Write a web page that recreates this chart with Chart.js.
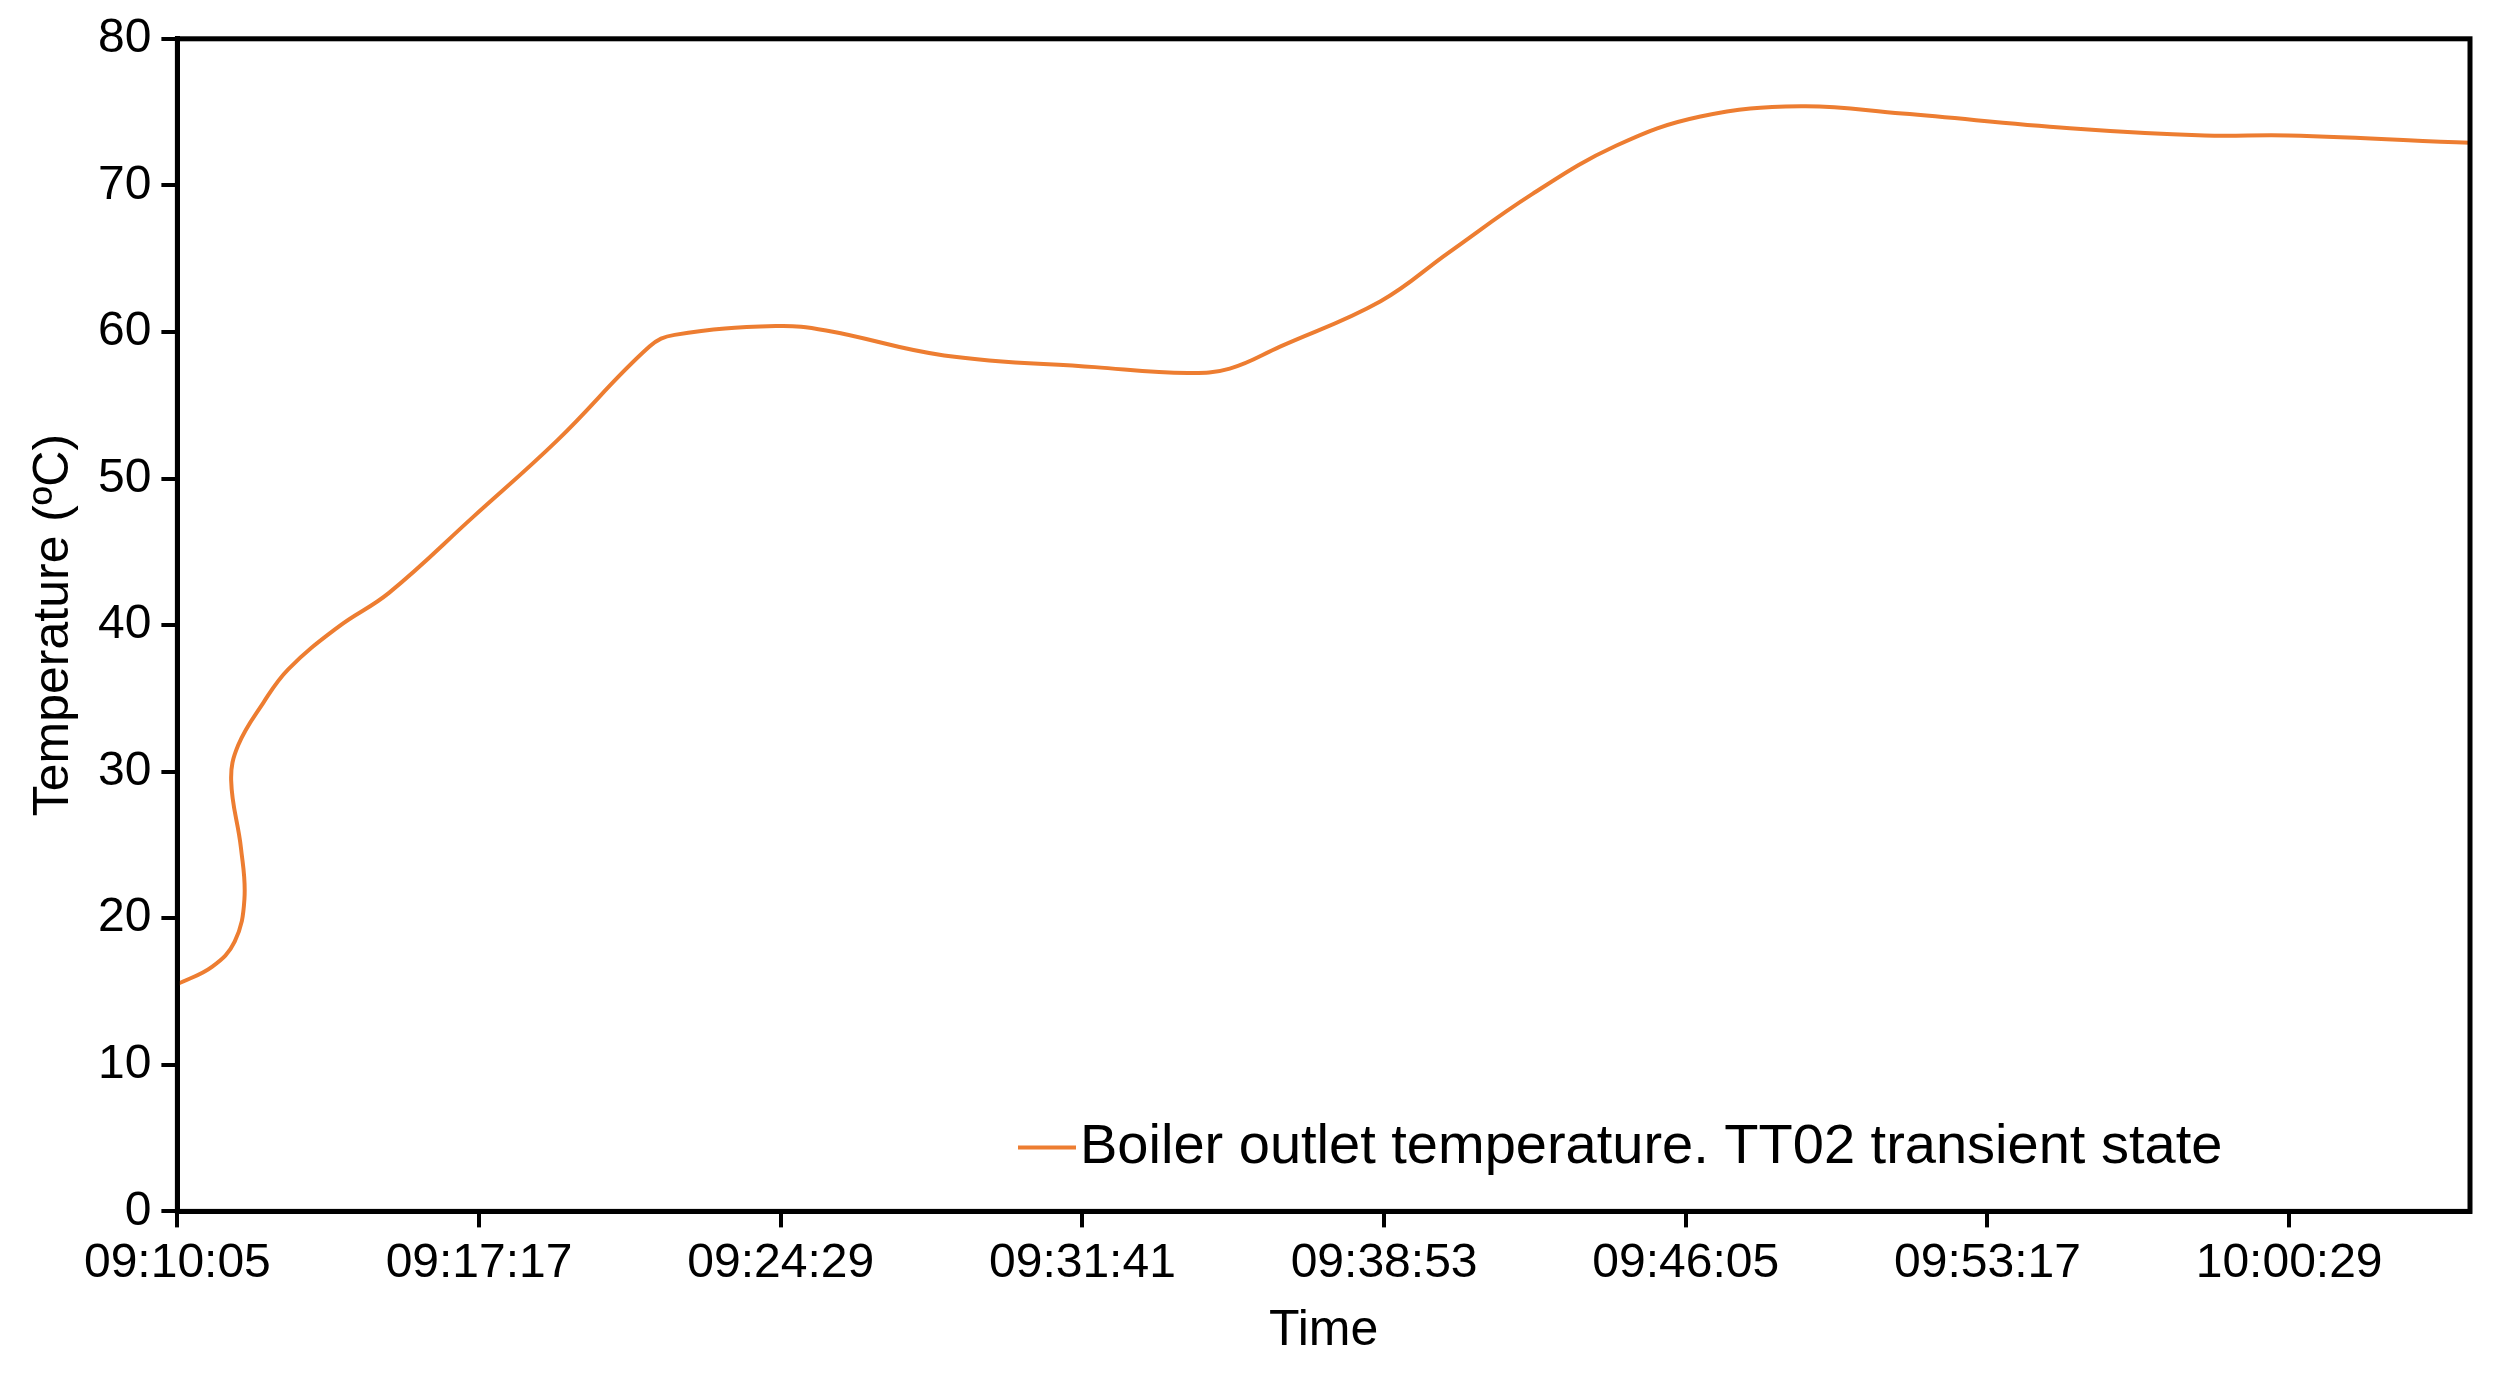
<!DOCTYPE html>
<html>
<head>
<meta charset="utf-8">
<title>Boiler outlet temperature</title>
<script src="https://cdn.jsdelivr.net/npm/chart.js@4/dist/chart.umd.min.js"></script>
<style>
  html, body { margin: 0; background: #fff; }
</style>
</head>
<body>
<canvas id="chart" width="2506" height="1375"></canvas>
<script>
// seconds after 09:10:05
var timeSec = [0, 50, 82, 96, 91, 77, 87, 123, 159, 231, 303, 424, 544, 676, 712, 857, 929, 1098, 1314, 1447, 1507, 1579, 1723, 1820, 1940, 2060, 2181, 2325, 2470, 2710, 2903, 3023, 3283];
var tempC = [15.5, 16.7, 18.4, 21.3, 24.8, 29.4, 31.8, 34.7, 37.0, 39.9, 42.2, 47.4, 52.6, 59.0, 59.8, 60.4, 60.1, 58.4, 57.6, 57.2, 57.5, 59.0, 62.1, 65.4, 69.4, 72.7, 74.7, 75.4, 74.9, 73.9, 73.4, 73.4, 72.9];
var seriesLabel = 'Boiler outlet temperature. TT02 transient state';
var startSec = 9 * 3600 + 10 * 60 + 5;

function fmt(s) {
  var t = startSec + s;
  var h = Math.floor(t / 3600), m = Math.floor(t % 3600 / 60), x = t % 60;
  return [h, m, x].map(function (v) { return String(v).padStart(2, '0'); }).join(':');
}

var points = timeSec.map(function (t, i) { return { x: t, y: tempC[i] }; });
var lineColor = '#ED7D31';

// frame around plot + legend inside chart area
var framePlugin = {
  id: 'frame',
  afterDraw: function (chart) {
    var a = chart.chartArea, ctx = chart.ctx;
    ctx.save();
    ctx.strokeStyle = '#000';
    ctx.lineWidth = 5;
    ctx.strokeRect(a.left, a.top, a.right - a.left, a.bottom - a.top);
    ctx.font = '56px "Liberation Sans", Arial, sans-serif';
    ctx.textBaseline = 'middle';
    var y = a.bottom - 64, x = 1018;
    ctx.strokeStyle = lineColor;
    ctx.lineWidth = 4;
    ctx.beginPath(); ctx.moveTo(x, y); ctx.lineTo(x + 58, y); ctx.stroke();
    ctx.fillStyle = '#000';
    ctx.fillText(seriesLabel, x + 62, y);
    ctx.restore();
  }
};

new Chart(document.getElementById('chart'), {
  type: 'scatter',
  data: {
    datasets: [{
      label: seriesLabel,
      data: points,
      showLine: true,
      borderColor: lineColor,
      borderWidth: 4,
      pointRadius: 0,
      tension: 0.4
    }]
  },
  options: {
    responsive: false,
    animation: false,
    devicePixelRatio: 1,
    layout: { padding: { left: 20, right: 36, top: 36, bottom: 10 } },
    plugins: { legend: { display: false }, tooltip: { enabled: false } },
    scales: {
      x: {
        type: 'linear', min: 0, max: 3283,
        afterBuildTicks: function (ax) {
          var t = [];
          for (var v = 0; v <= 3283; v += 432) t.push({ value: v });
          ax.ticks = t;
        },
        ticks: { callback: function (v) { return fmt(v); }, color: '#000', font: { size: 48, family: '"Liberation Sans", Arial' }, maxRotation: 0, padding: 8 },
        grid: { drawOnChartArea: false, color: '#000', lineWidth: 4, tickLength: 16 },
        border: { color: '#000', width: 5 },
        title: { display: true, text: 'Time', color: '#000', font: { size: 50, family: '"Liberation Sans", Arial' }, padding: { top: 0 } }
      },
      y: {
        min: 0, max: 80,
        ticks: { stepSize: 10, color: '#000', font: { size: 48, family: '"Liberation Sans", Arial' }, padding: 10 },
        grid: { drawOnChartArea: false, color: '#000', lineWidth: 4, tickLength: 16 },
        border: { color: '#000', width: 5 },
        title: { display: true, text: 'Temperature (ºC)', color: '#000', font: { size: 50, family: '"Liberation Sans", Arial' } }
      }
    }
  },
  plugins: [framePlugin]
});
</script>
</body>
</html>
